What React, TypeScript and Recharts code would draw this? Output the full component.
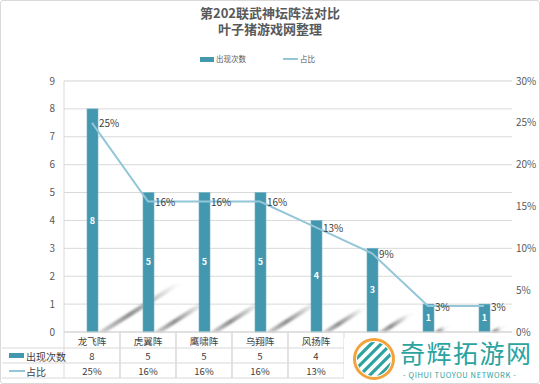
import { ComposedChart, Bar, Line, XAxis, YAxis, CartesianGrid, LabelList } from 'recharts'

const categories = ['龙飞阵', '虎翼阵', '鹰啸阵', '乌翔阵', '风扬阵', '云垂阵', '蛇蟠阵', '雷绝阵']
const counts = [8, 5, 5, 5, 4, 3, 1, 1]
const shares = [25, 15.6, 15.6, 15.6, 12.5, 9.4, 3.1, 3.1]
const countTicks = [0, 1, 2, 3, 4, 5, 6, 7, 8, 9]
const shareTicks = [0, 5, 10, 15, 20, 25, 30]
const minorTicks = Array.from({ length: 46 }, (_, i) => i * 0.2)
// table columns after this index sit under the site watermark
const visibleCols = 5

const data = categories.map((name, i) => ({ name, count: counts[i], share: shares[i] }))

const TEAL = '#4398B0'
const LINE = '#92C6D8'
const GRID = '#d9d9d9'
const TXT = '#404040'
const FONT = '"Noto Sans CJK SC", "Noto Sans", sans-serif'

const TOP = 332 // table top (x axis line)
const R1 = 348, R2 = 363, R3 = 378

function ShadowBar(props: any) {
  const { x, y, width, height, fill, index } = props
  const bx = x + width
  const by = y + height
  const dx = height * 0.34
  const dy = height * 0.215
  const t = 8
  const id = `shd${index}`
  return (
    <g>
      <defs>
        <linearGradient id={id} x1={bx} y1={by} x2={bx + dx} y2={by - dy} gradientUnits="userSpaceOnUse">
          <stop offset="0" stopColor="#666" stopOpacity={0.3} />
          <stop offset="0.4" stopColor="#666" stopOpacity={0.75} />
          <stop offset="1" stopColor="#666" stopOpacity={0.05} />
        </linearGradient>
        <filter id={id + 'b'} x="-20%" y="-20%" width="140%" height="140%">
          <feGaussianBlur stdDeviation="1.1" />
        </filter>
      </defs>
      {height > 0 && (
        <polygon
          points={`${bx},${by} ${bx + dx},${by - dy} ${bx + dx + t},${by - dy} ${bx + t},${by}`}
          fill={`url(#${id})`}
          filter={`url(#${id}b)`}
        />
      )}
      <rect x={x} y={y} width={width} height={height} fill={fill} stroke="#6fb3c6" strokeWidth={0.6} />
    </g>
  )
}

function TableTick(props: any) {
  const { x, payload } = props
  const i = payload.index
  if (i >= visibleCols) return null
  const l = x - 28
  const r = x + 28
  return (
    <g fontFamily={FONT} fontSize={9.5} fill={TXT}>
      <line x1={l} x2={r} y1={R1} y2={R1} stroke={GRID} />
      <line x1={l} x2={r} y1={R2} y2={R2} stroke={GRID} />
      <line x1={l} x2={r} y1={R3} y2={R3} stroke={GRID} />
      <line x1={l} x2={l} y1={TOP} y2={R3} stroke={GRID} />
      <line x1={r} x2={r} y1={TOP} y2={R3} stroke={GRID} />
      <text x={x} y={341} textAnchor="middle" dominantBaseline="central">{payload.value}</text>
      <text x={x} y={356} textAnchor="middle" dominantBaseline="central">{counts[i]}</text>
      <text x={x} y={371} textAnchor="middle" dominantBaseline="central">{Math.round(shares[i])}%</text>
      {i === 0 && (
        <g>
          <line x1={2} x2={l} y1={R1} y2={R1} stroke={GRID} />
          <line x1={2} x2={l} y1={R2} y2={R2} stroke={GRID} />
          <line x1={2} x2={l} y1={R3} y2={R3} stroke={GRID} />
          <rect x={9} y={353} width={15} height={5} fill={TEAL} />
          <text x={26} y={356} fontSize={10} dominantBaseline="central">出现次数</text>
          <line x1={9} x2={25} y1={371} y2={371} stroke={LINE} strokeWidth={2} />
          <text x={26} y={371} fontSize={10} dominantBaseline="central">占比</text>
        </g>
      )}
    </g>
  )
}

function ShareLabel(props: any) {
  const { x, y, value } = props
  return (
    <text x={x + 7} y={y} fontFamily={FONT} fontSize={10} fill={TXT} dominantBaseline="central">
      {Math.round(value)}%
    </text>
  )
}

const titleStyle = {
  position: 'absolute' as const,
  left: 0,
  width: 540,
  textAlign: 'center' as const,
  fontSize: 13,
  fontWeight: 'bold' as const,
  color: '#595959',
  lineHeight: '15px',
}

export default function App() {
  return (
    <div style={{ position: 'absolute', left: 0, top: 0, width: 540, height: 384, background: '#fff', fontFamily: FONT }}>
      <div style={{ ...titleStyle, top: 5 }}>第202联武神坛阵法对比</div>
      <div style={{ ...titleStyle, top: 21 }}>叶子猪游戏网整理</div>
      <div style={{ position: 'absolute', left: 200, top: 57, width: 14, height: 5, background: TEAL }} />
      <div style={{ position: 'absolute', left: 216, top: 53, fontSize: 7.5, color: '#595959', lineHeight: '12px' }}>出现次数</div>
      <div style={{ position: 'absolute', left: 283, top: 58, width: 15, height: 2, background: LINE }} />
      <div style={{ position: 'absolute', left: 300, top: 53, fontSize: 7.5, color: '#595959', lineHeight: '12px' }}>占比</div>
      <ComposedChart width={540} height={384} data={data} margin={{ top: 81, right: 0, bottom: 2, left: 0 }}>
        <YAxis yAxisId="minor" hide domain={[0, 9]} ticks={minorTicks} />
        <CartesianGrid yAxisId="minor" vertical={false} stroke="#f1f1f1" />
        <CartesianGrid yAxisId="left" vertical={false} stroke={GRID} />
        <XAxis dataKey="name" height={50} interval={0} axisLine={{ stroke: GRID }} tickLine={false} tick={<TableTick />} />
        <YAxis
          yAxisId="left"
          width={64}
          domain={[0, 9]}
          ticks={countTicks}
          axisLine={{ stroke: GRID }}
          tickLine={false}
          tickSize={0}
          tickMargin={9}
          tick={{ fontSize: 10, fill: '#595959', fontFamily: FONT }}
        />
        <YAxis
          yAxisId="right"
          orientation="right"
          width={28}
          domain={[0, 30]}
          ticks={shareTicks}
          tickFormatter={(v) => `${v}%`}
          axisLine={false}
          tickLine={false}
          tickSize={0}
          tickMargin={4}
          tick={{ fontSize: 10, fill: '#595959', fontFamily: FONT, textAnchor: 'start' }}
        />
        <Bar yAxisId="left" dataKey="count" barSize={11} fill={TEAL} shape={<ShadowBar />} isAnimationActive={false}>
          <LabelList dataKey="count" position="center" fill="#fff" fontSize={9} fontWeight="bold" fontFamily={FONT} />
        </Bar>
        <Line yAxisId="right" dataKey="share" stroke={LINE} strokeWidth={2} dot={false} isAnimationActive={false}>
          <LabelList dataKey="share" content={<ShareLabel />} />
        </Line>
      </ComposedChart>
      <div style={{ position: 'absolute', left: 344, top: 338, width: 194, height: 43, background: '#fff' }}>
        <svg width={44} height={44} style={{ position: 'absolute', left: 8, top: -1 }}>
          <defs>
            <clipPath id="wmc"><circle cx={22} cy={22} r={17} /></clipPath>
          </defs>
          <circle cx={22} cy={22} r={19.5} fill="none" stroke="#f3a33a" strokeWidth={3} />
          <g clipPath="url(#wmc)" stroke="#2ba39f" strokeWidth={3.2}>
            <line x1={-4} y1={30} x2={30} y2={-4} />
            <line x1={0} y1={36} x2={36} y2={0} />
            <line x1={4} y1={42} x2={42} y2={4} />
            <line x1={8} y1={48} x2={48} y2={8} />
            <line x1={12} y1={54} x2={54} y2={12} />
          </g>
        </svg>
        <div style={{ position: 'absolute', left: 56, top: 2, fontSize: 25, lineHeight: '25px', letterSpacing: 1.5, color: '#2ba39f', whiteSpace: 'nowrap' }}>
          奇辉拓游网
        </div>
        <div style={{ position: 'absolute', left: 59, top: 32, fontSize: 7.5, lineHeight: '9px', letterSpacing: 0.6, color: '#2ba39f', whiteSpace: 'nowrap' }}>
          - QIHUI TUOYOU NETWORK -
        </div>
      </div>
      <div style={{ position: 'absolute', left: 0, top: 0, width: 538, height: 382, border: '1px solid #d9d9d9', borderRadius: 3, pointerEvents: 'none' }} />
    </div>
  )
}
